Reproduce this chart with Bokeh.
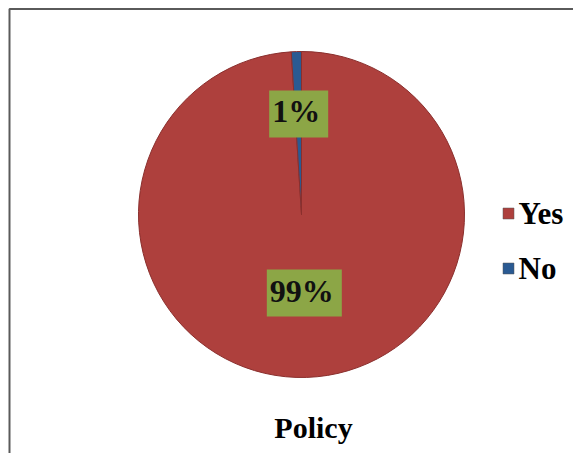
import math
from bokeh.plotting import figure
from bokeh.models import Range1d, ColumnDataSource
from bokeh.core.properties import value
from bokeh.embed import file_html
from bokeh.resources import INLINE

# data
categories = ["Yes", "No"]
shares = [99, 1]
labels = ["99%", "1%"]
colors = ["#AE403D", "#2A5A92"]
title_text = "Policy"

W, H = 573, 453
p = figure(width=W, height=H, output_backend="svg", toolbar_location=None,
           x_range=Range1d(0, W), y_range=Range1d(0, H), min_border=0)
p.axis.visible = False
p.grid.visible = False
p.outline_line_color = None
p.background_fill_color = "white"
p.border_fill_color = "white"

# outer border of the chart area
p.quad(left=[9], right=[W + 20], top=[H - 8.5], bottom=[-20],
       fill_color=None, line_color="#5a5a5a", line_width=2)

cx, cy, R = 301, H - 214, 163
total = sum(shares)
starts, ends, lx, ly = [], [], [], []
acc = 0.0
for s in shares:
    a0 = math.pi / 2 - 2 * math.pi * acc / total
    acc += s
    a1 = math.pi / 2 - 2 * math.pi * acc / total
    starts.append(a0)
    ends.append(a1)
    mid = (a0 + a1) / 2
    lx.append(cx + 0.55 * R * math.cos(mid))
    ly.append(cy + 0.55 * R * math.sin(mid) + 11)

src = ColumnDataSource(dict(start=starts, end=ends, color=colors, lx=lx, ly=ly, label=labels))
p.wedge(x=cx, y=cy, radius=R, start_angle="start", end_angle="end", direction="clock",
        fill_color="color", line_color="#8a2f2d", line_width=1, source=src)

p.text(x="lx", y="ly", text="label", source=src, text_font=value("Liberation Serif"),
       text_font_style="bold", text_font_size="32px", text_color="#111111",
       text_align="center", text_baseline="middle",
       background_fill_color="#8CA646", padding=[3, 8, 3, 8])

# legend
leg_x = [508] * len(categories)
leg_y = [H - 213 - 55 * i for i in range(len(categories))]
p.scatter(x=leg_x, y=leg_y, marker="square", size=11, fill_color=colors, line_color="#555555", line_width=0.5)
p.text(x=[x + 10 for x in leg_x], y=leg_y, text=categories, text_font=value("Liberation Serif"),
       text_font_style="bold", text_font_size="31px", text_color="black",
       text_align="left", text_baseline="middle")

# title
p.text(x=[313], y=[H - 427], text=[title_text], text_font=value("Liberation Serif"),
       text_font_style="bold", text_font_size="30px", text_color="black",
       text_align="center", text_baseline="middle")

open("out.html", "w").write(file_html(p, INLINE))
